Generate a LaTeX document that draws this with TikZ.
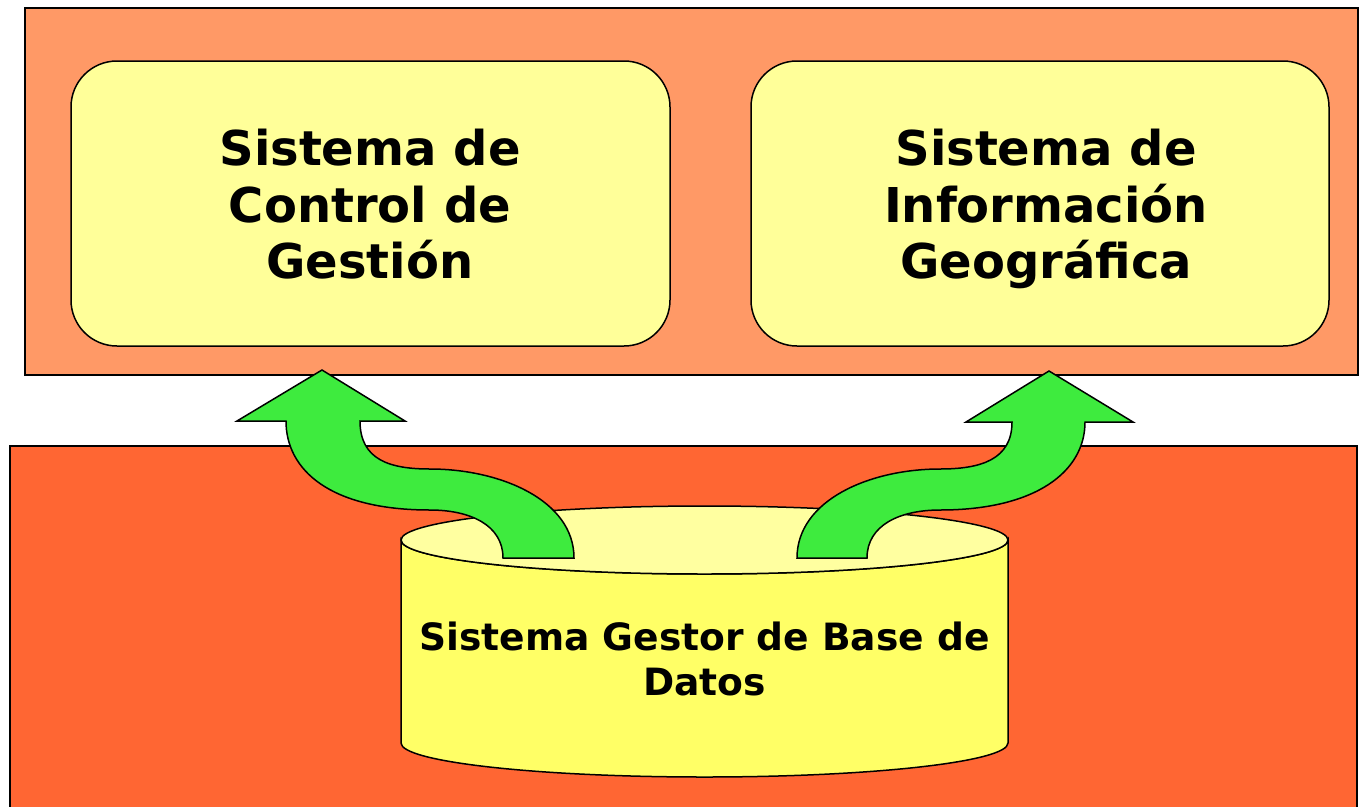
\documentclass[tikz,border=0pt]{standalone}
\usepackage{fontspec}
\setmainfont{DejaVu Sans}
\definecolor{topfill}{HTML}{FF9966}
\definecolor{botfill}{HTML}{FF6633}
\definecolor{boxfill}{HTML}{FFFF99}
\definecolor{cylbody}{HTML}{FFFF66}
\definecolor{cyltop}{HTML}{FFFFA0}
\definecolor{arrowgreen}{HTML}{3EEB3E}
\tikzset{
  panel/.style={draw=black, line width=1.5pt},
  sysbox/.style={draw=black, line width=1.5pt, fill=boxfill, rounded corners=46pt,
    minimum width=#1, minimum height=285pt, inner sep=0pt},
  biglabel/.style={font=\bfseries\fontsize{48}{56.5}\selectfont, align=center, inner sep=0pt, anchor=base},
  cyllabel/.style={font=\bfseries\fontsize{37.6}{45}\selectfont, align=center, inner sep=0pt, anchor=base},
  bigarrow/.style={draw=black, line width=1.5pt, fill=arrowgreen, line join=miter},
}
\begin{document}
\begin{tikzpicture}[x=1pt,y=-1pt]
\useasboundingbox (0,0) rectangle (1359,806);
\fill[white] (0,0) rectangle (1359,806);
% upper panel
\draw[panel, fill=topfill] (25,8) rectangle (1358,375);
\node[sysbox=599pt] (scg) at (370.5,203.5) {};
\node[sysbox=578pt] (sig) at (1040,203.5) {};
\node[biglabel] (scgt) at (370,278.5) {Sistema de\\Control de\\Gestión};
\node[biglabel] (sigt) at (1046,278.5) {Sistema de\\Información\\Geográfica};
% lower panel
\draw[panel, fill=botfill] (10,446) rectangle (1357,830);
% cylinder
\draw[line width=1.5pt, fill=cylbody] (401,540) -- (401,743)
  arc[start angle=180, end angle=360, x radius=303.5pt, y radius=34pt]
  -- (1008,540)
  arc[start angle=0, end angle=-180, x radius=303.5pt, y radius=34pt] -- cycle;
\draw[line width=1.5pt, fill=cyltop] (704.5,540) ellipse[x radius=303.5pt, y radius=34pt];
\node[cyllabel] (sgbd) at (704.5,695) {Sistema Gestor de Base de\\Datos};
% arrows
\draw[bigarrow] (503,558) .. controls (503,525) and (470,510) .. (430,510)
  .. controls (330,510) and (286,470) .. (286,421)
  -- (237,421) -- (322,370) -- (405,421) -- (360,421)
  .. controls (360,460) and (390,469) .. (430,469)
  .. controls (500,469) and (574,500) .. (574,558) -- cycle;
\draw[bigarrow] (797,558) .. controls (797,500) and (870,469) .. (940,469)
  .. controls (980,469) and (1012,460) .. (1012,422)
  -- (966,422) -- (1049,371) -- (1133,422) -- (1085,422)
  .. controls (1085,472) and (1035,510) .. (940,510)
  .. controls (900,510) and (867,525) .. (867,558) -- cycle;
\end{tikzpicture}
\end{document}
